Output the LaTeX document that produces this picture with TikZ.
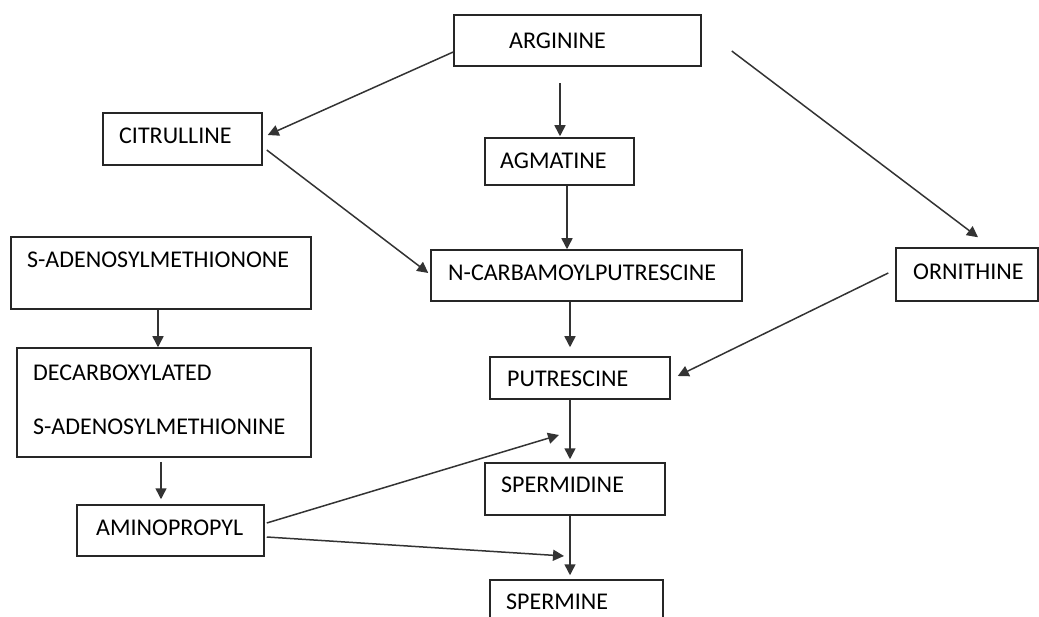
\documentclass[tikz,border=0pt]{standalone}
\usepackage{fontspec}
\setmainfont{Carlito}
\usetikzlibrary{arrows.meta,calc}
\begin{document}
\begin{tikzpicture}[x=1pt,y=-1pt,
  box/.style={draw=black!85, line width=1.5pt, inner sep=0pt},
  lbl/.style={inner sep=0pt, anchor=west, font=\fontsize{24}{28}\selectfont},
  conn/.style={draw=black!80, line width=1.5pt, -{Triangle[length=11pt,width=11pt]}}]
\useasboundingbox (0,0) rectangle (1039,617);
\clip (0,0) rectangle (1039,617);
% boxes
\node[box, minimum width=247pt, minimum height=51pt] (arg) at (577.5,40.5) {};
\node[box, minimum width=159pt, minimum height=52pt] (cit) at (182.5,139) {};
\node[box, minimum width=300pt, minimum height=72pt] (sam) at (161,273) {};
\node[box, minimum width=149pt, minimum height=47pt] (agm) at (559.5,161.5) {};
\node[box, minimum width=311pt, minimum height=51pt] (ncp) at (586.5,275.5) {};
\node[box, minimum width=142pt, minimum height=53pt] (orn) at (967,274.5) {};
\node[box, minimum width=294pt, minimum height=109pt] (dec) at (164,402.5) {};
\node[box, minimum width=187pt, minimum height=51pt] (ami) at (170.5,530.5) {};
\node[box, minimum width=180pt, minimum height=42pt] (put) at (580,378) {};
\node[box, minimum width=180pt, minimum height=52pt] (spd) at (575,489) {};
\node[box, minimum width=173pt, minimum height=60pt] (spm) at (576.5,610) {};
% labels
\node[lbl] (argt) at (509,41) {ARGININE};
\node[lbl] (citt) at (119,136) {CITRULLINE};
\node[lbl] (samt) at (27,260) {S-ADENOSYLMETHIONONE};
\node[lbl] (agmt) at (500,161) {AGMATINE};
\node[lbl] (ncpt) at (448,273) {N-CARBAMOYLPUTRESCINE};
\node[lbl] (ornt) at (913,272) {ORNITHINE};
\node[lbl] (dect1) at (33,373) {DECARBOXYLATED};
\node[lbl] (dect2) at (33,427) {S-ADENOSYLMETHIONINE};
\node[lbl] (amit) at (96,528) {AMINOPROPYL};
\node[lbl] (putt) at (507,379) {PUTRESCINE};
\node[lbl] (spdt) at (501,485) {SPERMIDINE};
\node[lbl] (spmt) at (506,602) {SPERMINE};
% free ends
\coordinate (j1) at (559,435);
\coordinate (j2) at (564,556);
% connectors
\draw[conn] ($(arg.west)+(0,11.5)$) -- ($(cit.east)+(5,-4)$);
\draw[conn] ($(cit.east)+(4,11)$) -- ($(ncp.west)+(-2,-2.5)$);
\draw[conn] ($(agm.north)+(0.5,-54)$) -- ($(agm.north)+(0.5,-1)$);
\draw[conn] ($(agm.south)+(7.5,0)$) -- ($(ncp.north)+(-19.5,0)$);
\draw[conn] ($(arg.east)+(30,10.5)$) -- ($(orn.north)+(11,-10)$);
\draw[conn] ($(orn.west)+(-7,-1.5)$) -- ($(put.east)+(7,-2)$);
\draw[conn] ($(ncp.south)+(-16.5,0)$) -- ($(put.north)+(-10,-9)$);
\draw[conn] ($(put.south)+(-10,0)$) -- ($(spd.north)+(-5,-3)$);
\draw[conn] ($(spd.south)+(-5,0)$) -- ($(spm.north)+(-6.5,-4)$);
\draw[conn] ($(ami.east)+(2,-7.5)$) -- (j1);
\draw[conn] ($(ami.east)+(2,6.5)$) -- (j2);
\draw[conn] ($(sam.south)+(-3,0)$) -- ($(dec.north)+(-6,0)$);
\draw[conn] ($(dec.south)+(-3,4)$) -- ($(ami.north)+(-9.5,-5)$);
\end{tikzpicture}
\end{document}
